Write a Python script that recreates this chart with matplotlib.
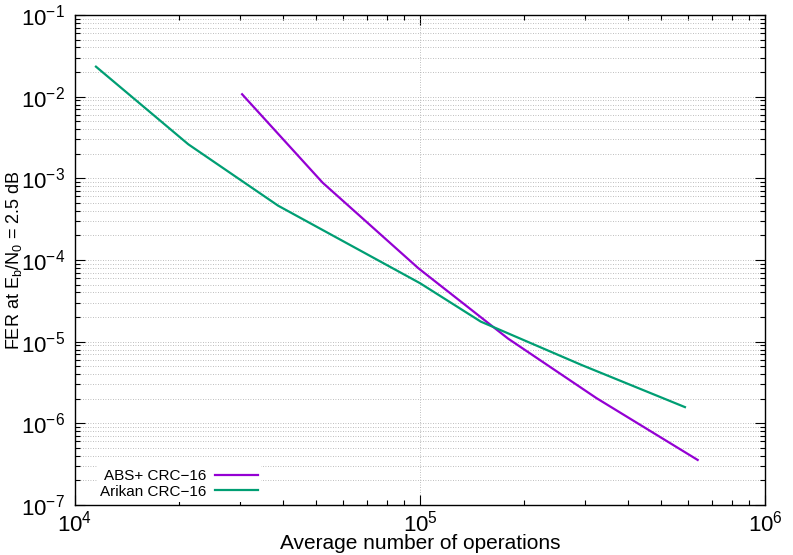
import matplotlib
matplotlib.use("Agg")
import matplotlib.pyplot as plt
from matplotlib.ticker import LogLocator, NullFormatter

plt.rcParams["font.family"] = ["Liberation Sans", "DejaVu Sans"]
plt.rcParams["mathtext.fontset"] = "custom"
plt.rcParams["mathtext.rm"] = "Liberation Sans"
plt.rcParams["mathtext.it"] = "Liberation Sans:italic"

# --- data ---
abs_ops = [3.05e4, 5.22e4, 9.9e4, 1.8e5, 3.25e5, 6.38e5]
abs_fer = [1.07e-2, 8.85e-4, 7.9e-5, 1.09e-5, 2.03e-6, 3.56e-7]

arikan_ops = [1.15e4, 2.13e4, 3.88e4, 1.0e5, 1.5e5, 2.94e5, 5.86e5]
arikan_fer = [2.33e-2, 2.61e-3, 4.62e-4, 5.2e-5, 1.76e-5, 5.18e-6, 1.58e-6]

labels = ["ABS+ CRC\u221216", "Arikan CRC\u221216"]
x_ticks = [1e4, 1e5, 1e6]
y_ticks = [1e-7, 1e-6, 1e-5, 1e-4, 1e-3, 1e-2, 1e-1]

# --- plot ---
fig = plt.figure(figsize=(7.93, 5.55), dpi=100)
ax = fig.add_axes([0.0946, 0.0901, 0.8701, 0.8829])

ax.plot(abs_ops, abs_fer, color="#9400D3", lw=1.6, label=labels[0])
ax.plot(arikan_ops, arikan_fer, color="#009E73", lw=1.6, label=labels[1])

ax.set_xscale("log")
ax.set_yscale("log")
ax.set_xticks(x_ticks)
ax.set_yticks(y_ticks)
ax.set_xlim(1e4, 1e6)
ax.set_ylim(1e-7, 1e-1)

ax.xaxis.set_minor_locator(LogLocator(base=10, subs=range(2, 10)))
ax.yaxis.set_minor_locator(LogLocator(base=10, subs=range(2, 10)))
ax.xaxis.set_minor_formatter(NullFormatter())
ax.yaxis.set_minor_formatter(NullFormatter())

ax.tick_params(which="both", direction="in", top=True, right=True, width=0.8)
ax.tick_params(which="major", length=7, labelsize=16)
ax.tick_params(axis="x", which="major", pad=4)
ax.tick_params(axis="y", which="major", pad=7)
ax.tick_params(which="minor", length=3.5)

ax.yaxis.grid(True, which="both", color="#a8a8a8", ls=(0, (1, 2)), lw=0.6)
ax.xaxis.grid(True, which="major", color="#a8a8a8", ls=(0, (1, 2)), lw=0.6)
ax.set_axisbelow(True)
for s in ax.spines.values():
    s.set_linewidth(1.0)

ax.set_xlabel("Average number of operations", fontsize=15)
ax.xaxis.set_label_coords(0.5, -0.06)
ax.set_ylabel("FER at E$_\\mathrm{b}$/N$_\\mathrm{0}$ = 2.5 dB", fontsize=13, labelpad=-2)

leg = ax.legend(loc="lower right", bbox_to_anchor=(0.2696, 0.007),
                markerfirst=False, fontsize=11, frameon=True,
                facecolor="white", edgecolor="none", framealpha=1.0,
                handlelength=2.8, handletextpad=0.6, borderaxespad=0.0,
                labelspacing=0.08, borderpad=0.2, fancybox=False)

plt.savefig("out.png", dpi=100)
plt.close()
